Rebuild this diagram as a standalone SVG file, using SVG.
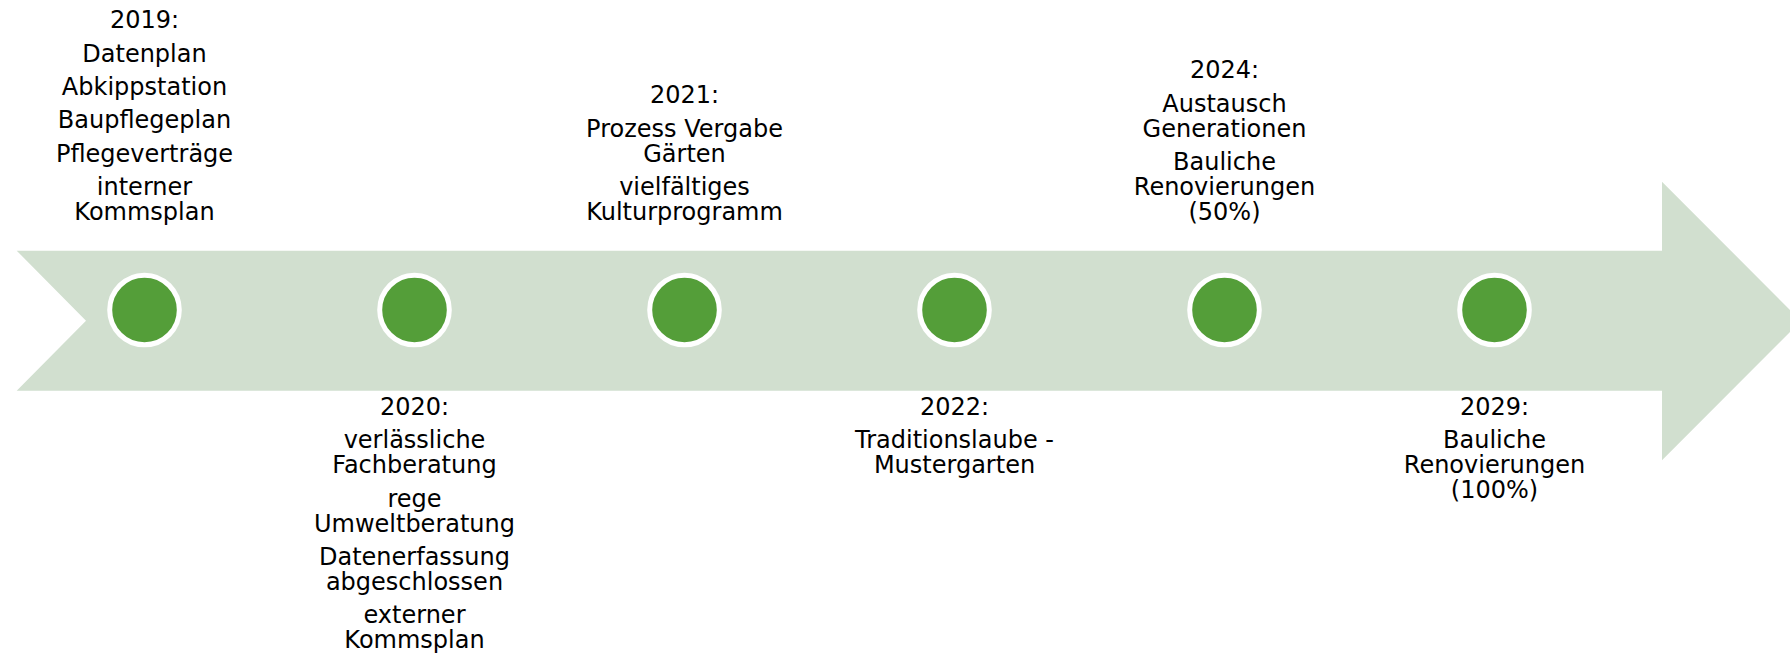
<svg xmlns="http://www.w3.org/2000/svg" width="1790" height="657" viewBox="0 0 1790 657">
<style>
.band{fill:#d1dfcf}
.dot{fill:#549e39;stroke:#ffffff;stroke-width:5}
text{font-family:"DejaVu Sans","Liberation Sans",sans-serif;font-size:24px;fill:#000000;text-anchor:middle}
</style>
<rect width="1790" height="657" fill="#ffffff"/>
<g id="timeline-arrow">
<polygon class="band" points="16.7,250.7 1662,250.7 1662,181.7 1801,321 1662,460.3 1662,390.7 16.7,390.7 86,320.7"/>
</g>
<g id="connectors"></g>
<g id="m2019">
<circle class="dot" cx="144.5" cy="310" r="34.8"/>
<text x="144.5" y="28.3">2019:</text>
<text x="144.5" y="61.7">Datenplan</text>
<text x="144.5" y="95">Abkippstation</text>
<text x="144.5" y="128.3">Baupflegeplan</text>
<text x="144.5" y="161.7">Pflegeverträge</text>
<text x="144.5" y="195">interner</text>
<text x="144.5" y="220">Kommsplan</text>
</g>
<g id="m2020">
<circle class="dot" cx="414.5" cy="310" r="34.8"/>
<text x="414.5" y="415">2020:</text>
<text x="414.5" y="448.3">verlässliche</text>
<text x="414.5" y="473.3">Fachberatung</text>
<text x="414.5" y="506.7">rege</text>
<text x="414.5" y="531.7">Umweltberatung</text>
<text x="414.5" y="565">Datenerfassung</text>
<text x="414.5" y="590">abgeschlossen</text>
<text x="414.5" y="623.3">externer</text>
<text x="414.5" y="648.3">Kommsplan</text>
</g>
<g id="m2021">
<circle class="dot" cx="684.5" cy="310" r="34.8"/>
<text x="684.5" y="103.3">2021:</text>
<text x="684.5" y="136.7">Prozess Vergabe</text>
<text x="684.5" y="161.7">Gärten</text>
<text x="684.5" y="195">vielfältiges</text>
<text x="684.5" y="220">Kulturprogramm</text>
</g>
<g id="m2022">
<circle class="dot" cx="954.5" cy="310" r="34.8"/>
<text x="954.5" y="415">2022:</text>
<text x="954.5" y="448.3">Traditionslaube -</text>
<text x="954.5" y="473.3">Mustergarten</text>
</g>
<g id="m2024">
<circle class="dot" cx="1224.5" cy="310" r="34.8"/>
<text x="1224.5" y="78.3">2024:</text>
<text x="1224.5" y="111.7">Austausch</text>
<text x="1224.5" y="136.7">Generationen</text>
<text x="1224.5" y="170">Bauliche</text>
<text x="1224.5" y="195">Renovierungen</text>
<text x="1224.5" y="220">(50%)</text>
</g>
<g id="m2029">
<circle class="dot" cx="1494.5" cy="310" r="34.8"/>
<text x="1494.5" y="415">2029:</text>
<text x="1494.5" y="448.3">Bauliche</text>
<text x="1494.5" y="473.3">Renovierungen</text>
<text x="1494.5" y="498.3">(100%)</text>
</g>
</svg>
